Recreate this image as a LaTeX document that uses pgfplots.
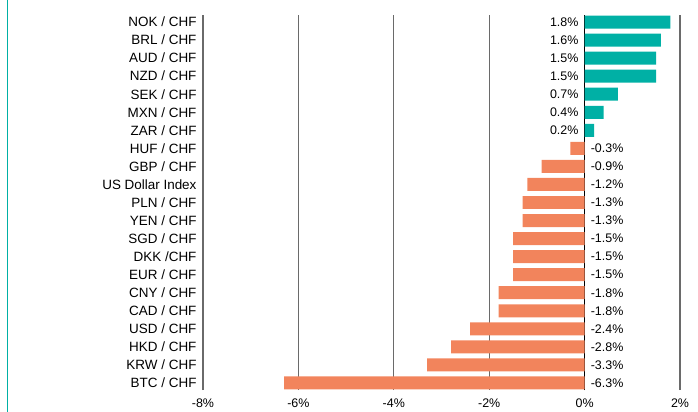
\documentclass[border=0pt]{standalone}
\usepackage{pgfplots}
\pgfplotsset{compat=1.18}
\usepackage{pgfplotstable}
\usepackage{fontspec}
\setmainfont{Liberation Sans}
\usetikzlibrary{calc}

\definecolor{posbar}{HTML}{00B0A5}
\definecolor{negbar}{HTML}{F2845C}
\definecolor{gridgray}{HTML}{6A6A6A}

% row 20 = top (NOK), row 0 = bottom (BTC)
\pgfplotstableread{
y  val   z  lab
20  1.8  0  1.8
19  1.6  0  1.6
18  1.5  0  1.5
17  1.5  0  1.5
16  0.7  0  0.7
15  0.4  0  0.4
14  0.2  0  0.2
}\pos

\pgfplotstableread{
y  val   z  lab
13 -0.3  0  -0.3
12 -0.9  0  -0.9
11 -1.2  0  -1.2
10 -1.3  0  -1.3
9  -1.3  0  -1.3
8  -1.5  0  -1.5
7  -1.5  0  -1.5
6  -1.5  0  -1.5
5  -1.8  0  -1.8
4  -1.8  0  -1.8
3  -2.4  0  -2.4
2  -2.8  0  -2.8
1  -3.3  0  -3.3
0  -6.3  0  -6.3
}\neg

\begin{document}
\begin{tikzpicture}
\begin{axis}[
    name=ax,
    scale only axis,
    width=477bp, height=375bp,
    xmin=-8, xmax=2,
    ymin=-0.39, ymax=20.39,
    axis line style={draw=none},
    major tick length=0pt,
    xmajorgrids,
    grid style={gridgray, line width=1.1bp},
    xtick={-8,-6,-4,-2,0,2},
    xticklabels={-8\%,-6\%,-4\%,-2\%,0\%,2\%},
    extra x ticks={0},
    extra x tick labels={},
    extra x tick style={grid style={black, line width=1.3bp}},
    x tick label style={font=\fontsize{12.5}{14}\selectfont, yshift=-5bp},
    ytick={0,...,20},
    yticklabels={BTC / CHF, KRW / CHF, HKD / CHF, USD / CHF, CAD / CHF,
        CNY / CHF, EUR / CHF, DKK /CHF, SGD / CHF, YEN / CHF, PLN / CHF,
        US Dollar Index, GBP / CHF, HUF / CHF, ZAR / CHF, MXN / CHF,
        SEK / CHF, NZD / CHF, AUD / CHF, BRL / CHF, NOK / CHF},
    y tick label style={font=\fontsize{13.5}{15}\selectfont, anchor=east, xshift=-3bp},
    clip=false,
]
    \addplot[xbar, bar shift=0pt, bar width=0.72, fill=posbar, draw=none]
        table[x=val, y=y] {\pos};
    \addplot[xbar, bar shift=0pt, bar width=0.72, fill=negbar, draw=none]
        table[x=val, y=y] {\neg};

    % value labels sit on the zero line, opposite the bar
    \addplot[draw=none, mark=none, point meta=explicit symbolic,
        nodes near coords={\pgfplotspointmeta\%},
        nodes near coords align={anchor=east},
        every node near coord/.append style={anchor=east, inner sep=0pt, xshift=-6bp,
            font=\fontsize{12.5}{14}\selectfont}]
        table[x=z, y=y, meta=lab] {\pos};
    \addplot[draw=none, mark=none, point meta=explicit symbolic,
        nodes near coords={\pgfplotspointmeta\%},
        nodes near coords align={anchor=west},
        every node near coord/.append style={anchor=west, inner sep=0pt, xshift=6bp,
            font=\fontsize{12.5}{14}\selectfont}]
        table[x=z, y=y, meta=lab] {\neg};
\end{axis}
\draw[posbar, line width=1.6bp] ($(ax.south west)+(-195.5bp,-22bp)$) -- ($(ax.north west)+(-195.5bp,15bp)$);
\pgfresetboundingbox
\path[use as bounding box] ($(ax.south west)+(-203bp,-22bp)$) rectangle ($(ax.north east)+(18bp,15bp)$);
\end{tikzpicture}
\end{document}
